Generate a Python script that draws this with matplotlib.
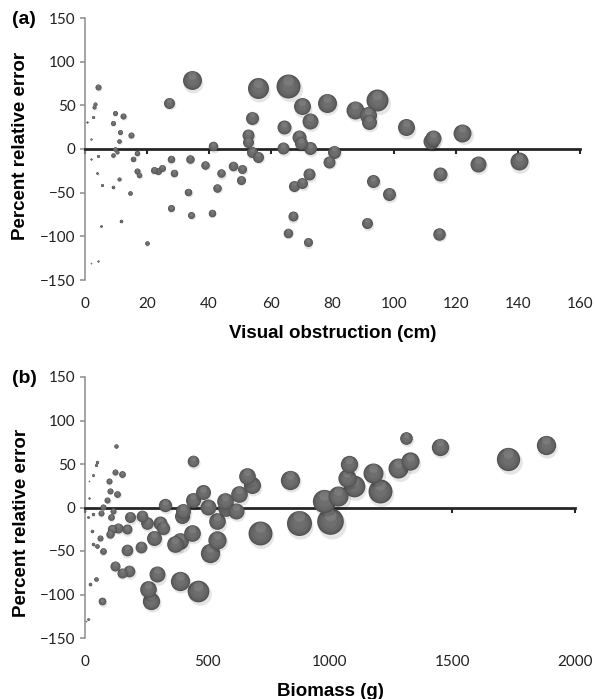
import matplotlib
matplotlib.use('Agg')
import matplotlib.pyplot as plt
from matplotlib import transforms
import numpy as np

plt.rcParams['font.family'] = ['Lato', 'DejaVu Sans']

# (a) percent relative error vs visual obstruction, bubble area = biomass (g)
vo_a = [4.3, 34.5, 55.8, 65.7, 3.0, 3.3, 2.7, 0.8, 9.7, 12.4, 8.9, 27.3, 53.9, 11.3, 14.8,
        11.1, 1.8, 9.7, 10.2, 41.5, 52.8, 52.8, 53.9, 56.0, 1.8, 4.3, 8.9, 16.7, 15.6, 4.0,
        5.4, 8.9, 11.1, 14.5, 16.9, 17.6, 22.3, 23.5, 24.8, 27.7, 28.7, 33.9, 38.9, 44.0, 47.9,
        50.8, 50.4, 42.8, 33.4, 27.7, 34.3, 40.9, 11.5, 5.1, 19.9, 1.8, 4.3, 70.0, 78.3, 87.3,
        94.5, 91.4, 91.9, 64.3, 72.7, 103.7, 69.2, 69.7, 64.1, 72.7, 80.5, 78.9, 112.4, 111.8, 122.0,
        72.5, 70.2, 67.5, 93.2, 98.2, 67.1, 65.5, 72.0, 91.1, 114.8, 114.5, 127.1, 140.2]
err_a = [71, 79, 70, 72, 48, 52, 37, 31, 41, 38, 30, 53, 36, 19, 16,
         9, 11, 0, -3, 3, 16, 8, -3, -9, -11, -8, -7, -5, -11, -28,
         -41, -43, -34, -50, -25, -30, -24, -25, -22, -11, -27, -11, -18, -28, -19,
         -23, -35, -45, -49, -68, -76, -73, -82, -88, -108, -131, -128, 49, 53, 45,
         56, 39, 31, 25, 32, 25, 14, 7, 1, 1, -3, -14.5, 13, 9, 18.7,
         -29, -39, -42, -37, -52, -77, -96, -107, -85, -29, -97, -17, -14]
bio_a = [118, 1180, 1442, 1883, 52, 52, 29, 13, 82, 118, 82, 396, 553, 82, 118,
         66, 13, 66, 52, 295, 471, 396, 396, 396, 13, 29, 66, 99, 99, 20,
         29, 40, 52, 66, 118, 99, 160, 160, 160, 184, 184, 236, 236, 236, 295,
         265, 265, 236, 184, 160, 160, 184, 40, 20, 66, 7, 13, 945, 1180, 1059,
         1583, 945, 736, 641, 837, 945, 641, 553, 471, 553, 553, 471, 837, 837, 1059,
         471, 396, 396, 553, 553, 327, 295, 265, 396, 641, 511, 837, 1059]

# (b) percent relative error vs biomass, bubble area = visual obstruction (cm)
bio_b = [125, 440, 50, 44, 34, 16, 122, 150, 98, 102, 132, 18, 91, 72, 64,
         116, 105, 31, 14, 2, 327, 184, 231, 252, 306, 320, 282, 399, 395, 442,
         480, 503, 571, 576, 615, 630, 660, 680, 537, 537, 510, 435, 388, 367, 109,
         136, 170, 102, 27, 61, 34, 48, 72, 170, 227, 122, 150, 181, 295, 258,
         268, 388, 463, 45, 20, 71, 14, 4, 1310, 1327, 1279, 1079, 1177, 1204, 1068,
         1098, 1034, 976, 1000, 873, 714, 837, 1450, 1727, 1882]
err_b = [71, 53, 52, 49, 37, 31, 41, 38, 30, 19.5, 16, 11, 9, 1, -6,
         -4, -11, -8, -11, -4, 3, -11, -10, -17.5, -18, -23, -35, -4, -10, 9,
         17.5, 1, 7, 0, -3.5, 15, 36, 26, -16, -37, -52, -29, -39, -42, -25,
         -23, -25, -30, -27, -35, -42, -44, -50, -49, -45, -67, -75, -73, -77, -94,
         -107, -84, -96, -82, -88, -108, -128, -131, 80, 53, 45, 50, 40, 19, 34,
         24.5, 13, 8, -16, -17.5, -29, 32, 70, 56, 72]
vo_b = [3.5, 26, 2.1, 1.7, 1.4, 0.4, 6.8, 8.5, 6.8, 6.8, 8.5, 0.8, 6.8, 6.8, 6.8,
        6.8, 8.5, 2.1, 1.2, 0.4, 33.6, 23, 26, 30.6, 37, 33.6, 42.7, 42.7, 42.7, 42.7,
        42.7, 48.6, 53, 53, 48.6, 53, 53, 55, 53, 63.6, 70.8, 53, 53, 53, 16.4,
        19, 19, 13, 2.3, 6.8, 2.3, 3.8, 8.5, 26, 26, 19, 19, 26, 48.6, 53,
        57, 70.8, 89.5, 3.8, 2.3, 11.3, 1.2, 0.4, 30.6, 63.6, 76, 57, 76, 109, 63.6,
        89.5, 76, 103, 135, 119, 109, 70.8, 57, 103, 70.8]

yticks = [-150, -100, -50, 0, 50, 100, 150]


def spheres(ax, x, y, val, k):
    fig = ax.figure
    val = np.asarray(val, dtype=float)
    order = np.argsort(val)[::-1]
    for n, i in enumerate(order):
        s = k * val[i]
        r = np.sqrt(s) / 2
        z = 3 + n * 0.01
        sh = transforms.offset_copy(ax.transData, fig=fig, x=0.12 * r, y=-0.28 * r, units='points')
        ax.scatter(x[i], y[i], s=s * 1.1, color='k', alpha=0.1, lw=0, transform=sh,
                   zorder=z, clip_on=False)
        for f, c in [(1.0, '#525252'), (0.9, '#5e5e5e'), (0.75, '#676767'), (0.5, '#6e6e6e')]:
            ax.scatter(x[i], y[i], s=s * f * f, color=c, lw=0, zorder=z + 0.001, clip_on=False)
        hl = transforms.offset_copy(ax.transData, fig=fig, x=0, y=0.5 * r, units='points')
        ax.scatter(x[i], y[i], s=s * 0.2, color='#959595', alpha=0.35, lw=0, transform=hl,
                   zorder=z + 0.002, clip_on=False)


def style(ax, xticks, xlabel, ylabel_y):
    ax.set_ylim(-150, 150)
    ax.set_xlim(xticks[0], xticks[-1])
    ax.set_yticks(yticks)
    ax.set_xticks(xticks)
    ax.spines['top'].set_visible(False)
    ax.spines['right'].set_visible(False)
    ax.spines['left'].set_color('#8c8c8c')
    ax.spines['left'].set_linewidth(1.1)
    ax.spines['bottom'].set_position(('data', 0))
    ax.spines['bottom'].set_color('#262626')
    ax.spines['bottom'].set_linewidth(2.0)
    ax.tick_params(axis='y', direction='out', length=3.6, width=1.1, color='#8c8c8c',
                   pad=3, labelsize=11, labelcolor='#222222')
    ax.tick_params(axis='x', direction='out', length=3.6, width=1.5, color='#262626',
                   labelbottom=False)
    sec = ax.secondary_xaxis('bottom')
    sec.set_xticks(xticks)
    sec.spines['bottom'].set_visible(False)
    sec.tick_params(length=0, pad=12, labelsize=11, labelcolor='#222222')
    sec.set_xlabel(xlabel, family='Liberation Sans', fontweight='bold', fontsize=13.5, labelpad=10)
    ax.text(-0.13, ylabel_y, 'Percent relative error', transform=ax.transAxes, rotation=90,
            ha='center', va='center', family='Liberation Sans', fontweight='bold', fontsize=13.5)


fig = plt.figure(figsize=(5.95, 6.99), dpi=100)
ax1 = fig.add_axes([85 / 595, 1 - 280 / 699, 495 / 595, 262 / 699])
ax2 = fig.add_axes([85 / 595, 1 - 638 / 699, 490 / 595, 261 / 699])

spheres(ax1, vo_a, err_a, bio_a, 0.1585)
spheres(ax2, bio_b, err_b, vo_b, 2.73)

style(ax1, [0, 20, 40, 60, 80, 100, 120, 140, 160], 'Visual obstruction (cm)', 0.51)
style(ax2, [0, 500, 1000, 1500, 2000], 'Biomass (g)', 0.44)

fig.text(12 / 595, 1 - 20 / 699, '(a)', ha='left', va='center', family='Liberation Sans',
         fontweight='bold', fontsize=14)
fig.text(12 / 595, 1 - 378 / 699, '(b)', ha='left', va='center', family='Liberation Sans',
         fontweight='bold', fontsize=14)

fig.savefig('out.png', dpi=100)
